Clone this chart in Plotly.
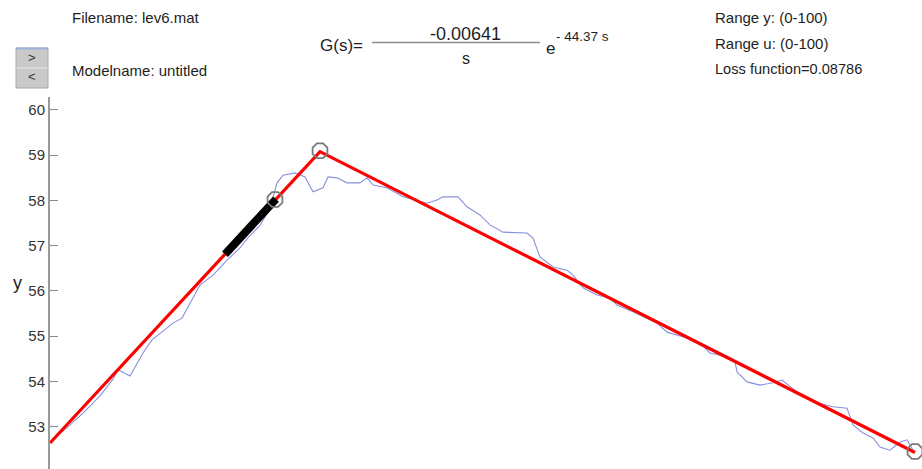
import plotly.graph_objects as go

# ---------------- data ----------------
# measured output y (blue, noisy)
t_meas = [5, 17, 33, 50, 63, 68, 80, 93, 102, 117, 123, 132, 142, 150, 163, 177, 190, 197,
          210, 220, 227, 233, 245, 255, 263, 273, 278, 287, 297, 310, 317, 323, 337, 353, 377,
          387, 393, 408, 417, 430, 440, 453, 477, 483, 490, 503, 517, 523, 533, 547, 560, 567,
          583, 607, 617, 637, 650, 660, 670, 685, 687, 697, 710, 723, 732, 747, 763, 783, 797,
          803, 813, 823, 830, 840, 850, 857, 863]
y_meas = [52.76, 52.98, 53.30, 53.68, 54.05, 54.26, 54.12, 54.63, 54.92, 55.18, 55.29, 55.40,
          55.80, 56.13, 56.35, 56.68, 56.95, 57.15, 57.45, 57.82, 58.39, 58.56, 58.61, 58.52,
          58.19, 58.28, 58.52, 58.50, 58.39, 58.39, 58.50, 58.34, 58.28, 58.08, 57.94, 58.01,
          58.08, 58.08, 57.86, 57.68, 57.46, 57.30, 57.28, 57.17, 56.75, 56.53, 56.46, 56.35,
          56.07, 55.91, 55.84, 55.69, 55.54, 55.29, 55.09, 54.96, 54.85, 54.63, 54.58, 54.43,
          54.21, 53.99, 53.92, 53.97, 54.03, 53.77, 53.55, 53.44, 53.41, 53.04, 52.86, 52.75,
          52.55, 52.48, 52.66, 52.71, 52.48]

# fitted model (red)
t_model = [0, 270, 865]
y_model = [52.64, 59.08, 52.43]

# selected slope segment (black)
t_slope = [175, 226]
y_slope = [56.81, 58.03]

# marker points
t_marks = [225, 270, 865]
y_marks = [58.02, 59.10, 52.45]

y_ticks = [53, 54, 55, 56, 57, 58, 59, 60]

# ---------------- layout helpers (pixel -> paper) ----------------
W, H = 922, 469
ML, MR, MT, MB = 50, 0, 97, 0
PW, PH = W - ML - MR, H - MT - MB


def px(x):
    return (x - ML) / PW


def py(y):
    return (H - MB - y) / PH


FONT = "Liberation Sans, Arial, sans-serif"
TXT = "#1e1e1e"

fig = go.Figure()
fig.add_trace(go.Scatter(x=t_meas, y=y_meas, mode="lines",
                         line=dict(color="#8890dc", width=1.1), hoverinfo="skip"))
fig.add_trace(go.Scatter(x=t_model, y=y_model, mode="lines",
                         line=dict(color="#ff0000", width=3.2), hoverinfo="skip"))
fig.add_trace(go.Scatter(x=t_slope, y=y_slope, mode="lines",
                         line=dict(color="#000000", width=8), hoverinfo="skip"))
fig.add_trace(go.Scatter(x=t_marks, y=y_marks, mode="markers",
                         marker=dict(symbol="octagon-open", size=16, color="#7a7a7a",
                                     line=dict(color="#7a7a7a", width=1.8)),
                         hoverinfo="skip"))

annotations = []


def txt(x, y, s, size=15, anchor="left", color=TXT):
    annotations.append(dict(x=px(x), y=py(y), xref="paper", yref="paper", text=s,
                            showarrow=False, xanchor=anchor, yanchor="middle",
                            font=dict(family=FONT, size=size, color=color)))


txt(70, 18, "Filename: lev6.mat")
txt(70, 70, "Modelname: untitled")
txt(713, 18, "Range y: (0-100)")
txt(713, 44, "Range u: (0-100)")
txt(713, 69, "Loss function=0.08786", size=14.6)
txt(318, 46, "G(s)=", size=17)
txt(465, 34, "-0.00641", size=18, anchor="center")
txt(466, 58, "s", size=16, anchor="center")
txt(544, 49, "e", size=17)
txt(554, 37, "- 44.37 s", size=13.5)
txt(32, 57, "&gt;", size=13, anchor="center", color="#333")
txt(32, 76, "&lt;", size=13, anchor="center", color="#333")
txt(11, 283, "y", size=18)

shapes = [
    # fraction bar
    dict(type="line", xref="paper", yref="paper", x0=px(372), x1=px(540), y0=py(42.5), y1=py(42.5),
         line=dict(color="#8c8c8c", width=1.5)),
    # button
    dict(type="rect", xref="paper", yref="paper", x0=px(16), x1=px(48), y0=py(88), y1=py(48),
         fillcolor="#c9c9c9", line=dict(color="#a8a8a8", width=1)),
    dict(type="line", xref="paper", yref="paper", x0=px(16), x1=px(48), y0=py(48.5), y1=py(48.5),
         line=dict(color="#9fb3d8", width=2)),
    dict(type="line", xref="paper", yref="paper", x0=px(16), x1=px(48), y0=py(68), y1=py(68),
         line=dict(color="#e6e6e6", width=1)),
]

fig.update_layout(
    width=W, height=H,
    margin=dict(l=ML, r=MR, t=MT, b=MB, pad=0),
    paper_bgcolor="white", plot_bgcolor="white",
    showlegend=False,
    annotations=annotations,
    shapes=shapes,
    xaxis=dict(range=[0, PW], visible=False, fixedrange=True),
    yaxis=dict(range=[52.065, 60.287], tickvals=y_ticks, ticktext=[str(v) for v in y_ticks],
               ticks="inside", ticklen=8, tickwidth=1.2, tickcolor="#8a8a8a",
               showline=True, linecolor="#9a9a9a", linewidth=2, showgrid=False,
               zeroline=False, tickfont=dict(family=FONT, size=15, color="#333"),
               fixedrange=True),
)

fig.write_html("out.html", config={"displayModeBar": False})
